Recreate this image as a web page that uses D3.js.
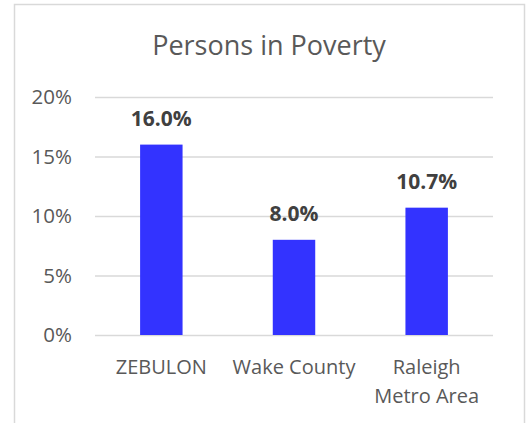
<!DOCTYPE html>
<html>
<head>
<meta charset="utf-8">
<script src="https://cdn.jsdelivr.net/npm/d3@7"></script>
<style>
  html, body { margin: 0; padding: 0; background: #fff; }
  svg { display: block; font-family: "Open Sans", sans-serif; }
</style>
</head>
<body>
<script>
// Poverty rate by area
const categories = [["ZEBULON"], ["Wake County"], ["Raleigh", "Metro Area"]];
const values = [16.0, 8.0, 10.7];
const yTicks = [0, 5, 10, 15, 20];
const chartTitle = "Persons in Poverty";

const W = 526, H = 423;
const svg = d3.select("body").append("svg").attr("width", W).attr("height", H);

// chart frame
svg.append("rect")
  .attr("x", 14.5).attr("y", 4.5)
  .attr("width", 510).attr("height", 430)
  .attr("fill", "#fff").attr("stroke", "#d9d9d9").attr("stroke-width", 1.5);

const plot = { left: 95, right: 493, top: 97, bottom: 335 };

const x = d3.scaleBand()
  .domain(categories.map((d, i) => i))
  .range([plot.left, plot.right])
  .paddingInner(0.68).paddingOuter(0.34);

const y = d3.scaleLinear().domain([0, 20]).range([plot.bottom, plot.top]);

// title
svg.append("text")
  .attr("x", 269).attr("y", 55)
  .attr("text-anchor", "middle")
  .attr("fill", "#595959")
  .attr("font-size", 27)
  .text(chartTitle);

// gridlines + y labels
const yAxis = d3.axisLeft(y).tickValues(yTicks).tickFormat(d => d + "%")
  .tickSize(-(plot.right - plot.left)).tickPadding(23);
const gy = svg.append("g").attr("transform", `translate(${plot.left},0)`).call(yAxis);
gy.select(".domain").remove();
gy.selectAll(".tick line").attr("stroke", "#d9d9d9").attr("stroke-width", 1.5);
gy.selectAll(".tick text")
  .attr("fill", "#595959").attr("font-size", 20.5)
  .attr("font-family", "Open Sans, sans-serif");

// bars
svg.append("g").selectAll("rect")
  .data(values)
  .join("rect")
  .attr("x", (d, i) => x(i))
  .attr("y", d => y(d))
  .attr("width", x.bandwidth())
  .attr("height", d => y(0) - y(d))
  .attr("fill", "#3333ff");

// value labels
svg.append("g").selectAll("text")
  .data(values)
  .join("text")
  .attr("x", (d, i) => x(i) + x.bandwidth() / 2)
  .attr("y", d => y(d) - 19)
  .attr("text-anchor", "middle")
  .attr("fill", "#404040")
  .attr("font-weight", "bold")
  .attr("font-size", 21)
  .text(d => d.toFixed(1) + "%");

// category labels
const cat = svg.append("g").selectAll("text")
  .data(categories)
  .join("text")
  .attr("text-anchor", "middle")
  .attr("fill", "#595959")
  .attr("font-size", 20);
cat.each(function(lines, i) {
  const t = d3.select(this);
  lines.forEach((line, j) => {
    t.append("tspan")
      .attr("x", x(i) + x.bandwidth() / 2)
      .attr("y", 374 + j * 29)
      .text(line);
  });
});
</script>
</body>
</html>
